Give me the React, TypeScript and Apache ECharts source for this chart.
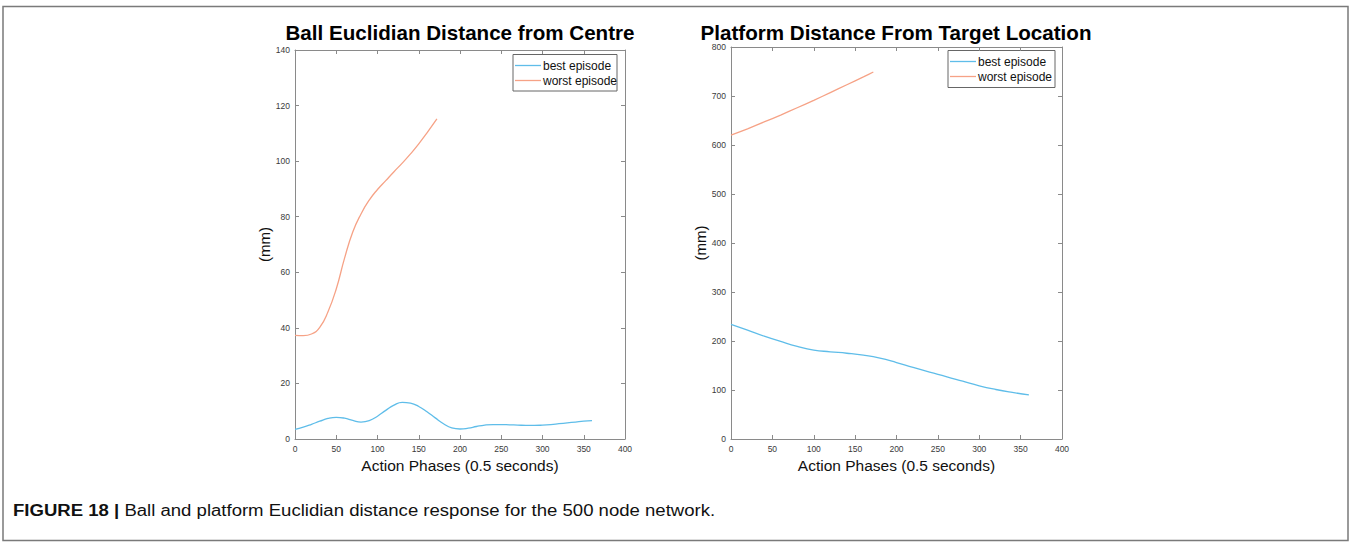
import React, { useEffect, useRef } from "react";
import * as echarts from "echarts";

// Action phase samples and distances (mm)
const BALL_BEST_X = [0, 10, 20, 30, 40, 50, 60, 70, 80, 90, 100, 110, 120, 130, 140, 150, 160, 170, 180, 190, 200, 210, 220, 230, 240, 250, 260, 270, 280, 290, 300, 310, 320, 330, 340, 350, 360];
const BALL_BEST_MM = [3.5, 4.3, 5.3, 6.4, 7.4, 7.8, 7.5, 6.7, 6.1, 6.6, 8.2, 10.3, 12.2, 13.2, 12.9, 11.7, 9.8, 7.6, 5.5, 4.0, 3.6, 3.9, 4.5, 5.0, 5.2, 5.2, 5.1, 5.0, 4.9, 4.9, 5.0, 5.2, 5.5, 5.8, 6.1, 6.4, 6.6];

const BALL_WORST_X = [0, 10, 20, 30, 40, 50, 60, 70, 80, 90, 100, 110, 120, 130, 140, 150, 160, 172];
const BALL_WORST_MM = [37.3, 37.2, 37.8, 40.2, 45.8, 54.0, 65.0, 74.5, 81.0, 86.0, 89.8, 93.0, 96.2, 99.3, 102.6, 106.2, 110.2, 115.2];

const PLAT_BEST_X = [0, 20, 40, 60, 80, 100, 120, 140, 160, 180, 200, 220, 240, 260, 280, 300, 320, 340, 360];
const PLAT_BEST_MM = [234, 222, 210, 199, 189, 181.5, 178, 175, 171, 165, 156, 146, 136.5, 127.5, 118, 108.5, 101, 95, 90];

const PLAT_WORST_X = [0, 20, 40, 60, 80, 100, 120, 140, 160, 172];
const PLAT_WORST_MM = [620, 633, 647, 661, 676, 691, 707, 723, 739, 749];

const SERIES_NAMES = ["best episode", "worst episode"];
const TITLES = ["Ball Euclidian Distance from Centre", "Platform Distance From Target Location"];
const X_NAME = "Action Phases (0.5 seconds)";
const Y_NAME = "(mm)";
const CAPTION_BOLD = "FIGURE 18 |";
const CAPTION_TEXT = "Ball and platform Euclidian distance response for the 500 node network.";

const BLUE = "#5fbde9";
const SALMON = "#f6a286";
const AXIS = "#8a8a8a";
const FONT = "'Liberation Sans', Arial, Helvetica, sans-serif";

const zip = (xs: number[], ys: number[]) => xs.map((x, i) => [x, ys[i]]);

function xAxes(gridIndex: number) {
  const base = {
    type: "value",
    gridIndex,
    min: 0,
    max: 400,
    interval: 50,
    splitLine: { show: false },
    axisLine: { show: true, onZero: false, lineStyle: { color: AXIS, width: 1 } },
    axisTick: { show: true, inside: true, length: 4, lineStyle: { color: AXIS } },
  };
  return [
    {
      ...base,
      position: "bottom",
      axisLabel: { color: "#3a3a3a", fontSize: 8.5, margin: 5, fontFamily: FONT },
      name: X_NAME,
      nameLocation: "middle",
      nameGap: 18,
      nameTextStyle: { color: "#111", fontSize: 15.5, fontFamily: FONT },
    },
    { ...base, position: "top", axisLabel: { show: false } },
  ];
}

function yAxes(gridIndex: number, max: number, interval: number) {
  const base = {
    type: "value",
    gridIndex,
    min: 0,
    max,
    interval,
    splitLine: { show: false },
    axisLine: { show: true, onZero: false, lineStyle: { color: AXIS, width: 1 } },
    axisTick: { show: true, inside: true, length: 4, lineStyle: { color: AXIS } },
  };
  return [
    {
      ...base,
      position: "left",
      axisLabel: { color: "#3a3a3a", fontSize: 8.5, margin: 5, fontFamily: FONT },
      name: Y_NAME,
      nameLocation: "middle",
      nameGap: 22,
      nameTextStyle: { color: "#111", fontSize: 15, fontFamily: FONT },
    },
    { ...base, position: "right", axisLabel: { show: false } },
  ];
}

function legendBox(x: number, y: number, w: number, h: number, lineLen: number) {
  const rows = [y + 11, y + 26];
  const colors = [BLUE, SALMON];
  const children: any[] = [
    {
      type: "rect",
      shape: { x, y, width: w, height: h },
      style: { fill: "#fff", stroke: "#666", lineWidth: 1 },
    },
  ];
  SERIES_NAMES.forEach((name, i) => {
    children.push({
      type: "line",
      shape: { x1: x + 2, y1: rows[i], x2: x + 2 + lineLen, y2: rows[i] },
      style: { stroke: colors[i], lineWidth: 1.3 },
    });
    children.push({
      type: "text",
      style: {
        text: name,
        x: x + lineLen + 4,
        y: rows[i],
        verticalAlign: "middle",
        align: "left",
        fontSize: 12,
        fontFamily: FONT,
        fill: "#111",
      },
    });
  });
  return { type: "group", z: 100, children };
}

function titleText(text: string, cx: number) {
  return {
    type: "text",
    style: {
      text,
      x: cx,
      y: 32,
      align: "center",
      verticalAlign: "middle",
      fontSize: 20.6,
      fontWeight: "bold",
      fontFamily: FONT,
      fill: "#000",
    },
  };
}

export default function App() {
  const ref = useRef<HTMLDivElement>(null);

  useEffect(() => {
    if (!ref.current) return;
    const chart = echarts.init(ref.current, undefined, { renderer: "svg" });

    const lineSeries = (name: string, data: number[][], color: string, axis: number, smooth: number) => ({
      type: "line",
      name,
      data,
      xAxisIndex: axis,
      yAxisIndex: axis,
      smooth,
      symbol: "none",
      showSymbol: false,
      lineStyle: { color, width: 1.3 },
      itemStyle: { color },
    });

    chart.setOption({
      animation: false,
      backgroundColor: "#fff",
      grid: [
        { left: 295, top: 50, width: 330, height: 389 },
        { left: 731, top: 47, width: 331, height: 392 },
      ],
      xAxis: [...xAxes(0), ...xAxes(1)],
      yAxis: [...yAxes(0, 140, 20), ...yAxes(1, 800, 100)],
      series: [
        lineSeries(SERIES_NAMES[0], zip(BALL_BEST_X, BALL_BEST_MM), BLUE, 0, 0.5),
        lineSeries(SERIES_NAMES[1], zip(BALL_WORST_X, BALL_WORST_MM), SALMON, 0, 0.5),
        lineSeries(SERIES_NAMES[0], zip(PLAT_BEST_X, PLAT_BEST_MM), BLUE, 2, 0.5),
        lineSeries(SERIES_NAMES[1], zip(PLAT_WORST_X, PLAT_WORST_MM), SALMON, 2, 0.2),
      ],
      graphic: [
        {
          type: "rect",
          shape: { x: 3, y: 6.5, width: 1345, height: 534 },
          style: { fill: "none", stroke: "#7a7a7a", lineWidth: 1.5 },
        },
        titleText(TITLES[0], 460),
        titleText(TITLES[1], 896),
        legendBox(513, 54.5, 104, 36.5, 26),
        legendBox(948, 50.5, 107, 37, 26),
        {
          // figure caption, set slightly wide
          type: "text",
          x: 13,
          y: 510,
          scaleX: 1.16,
          style: {
            text: `{b|${CAPTION_BOLD}} {r|${CAPTION_TEXT}}`,
            x: 0,
            y: 0,
            verticalAlign: "middle",
            fontSize: 16,
            fontFamily: FONT,
            fill: "#111",
            rich: {
              b: { fontSize: 16, fontWeight: "bold", fontFamily: FONT, fill: "#111" },
              r: { fontSize: 16, fontFamily: FONT, fill: "#111" },
            },
          },
        },
      ],
    });

    return () => chart.dispose();
  }, []);

  return (
    <div
      ref={ref}
      style={{ position: "absolute", left: 0, top: 0, width: 1351, height: 542, background: "#fff" }}
    />
  );
}
